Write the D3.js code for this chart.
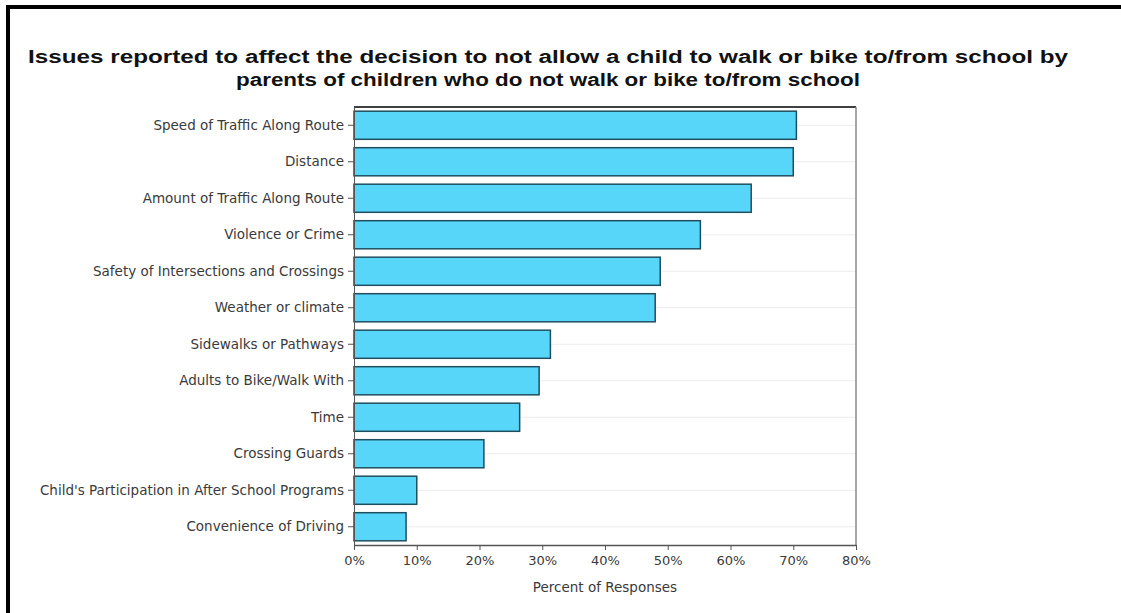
<!DOCTYPE html>
<html>
<head>
<meta charset="utf-8">
<script src="https://cdn.jsdelivr.net/npm/d3@7"></script>
<style>
  body { margin: 0; background: #fff; }
  svg { display: block; }
</style>
</head>
<body>
<script>
// Categories, top to bottom
const categories = [
  "Speed of Traffic Along Route",
  "Distance",
  "Amount of Traffic Along Route",
  "Violence or Crime",
  "Safety of Intersections and Crossings",
  "Weather or climate",
  "Sidewalks or Pathways",
  "Adults to Bike/Walk With",
  "Time",
  "Crossing Guards",
  "Child's Participation in After School Programs",
  "Convenience of Driving"
];

// Percent of responses
const percents = [70.5, 70.0, 63.3, 55.2, 48.8, 48.0, 31.3, 29.5, 26.4, 20.7, 10.0, 8.3];

const xTicks = [0, 10, 20, 30, 40, 50, 60, 70, 80];

const titleLines = [
  "Issues reported to affect the decision to not allow a child to walk or bike to/from school by",
  "parents of children who do not walk or bike to/from school"
];

const width = 1121, height = 613;
const margin = { top: 107, right: 265, bottom: 68, left: 354 };
const labelFont = "DejaVu Sans, Verdana, sans-serif";

const svg = d3.select("body").append("svg")
  .attr("width", width)
  .attr("height", height);

// outer frame (left and top edges only, as in the scan)
svg.append("rect").attr("x", 6).attr("y", 5).attr("width", 4).attr("height", height - 5).attr("fill", "#000");
svg.append("rect").attr("x", 6).attr("y", 5).attr("width", width - 6).attr("height", 4).attr("fill", "#000");

// title
svg.append("g")
  .selectAll("text")
  .data(titleLines)
  .join("text")
  .attr("x", 548)
  .attr("y", (d, i) => 63 + i * 23)
  .attr("text-anchor", "middle")
  .attr("font-family", "Liberation Sans, Arial, sans-serif")
  .attr("font-weight", "bold")
  .attr("font-size", 18)
  .attr("fill", "#111")
  .attr("textLength", (d, i) => i === 0 ? 1040 : 624)
  .attr("lengthAdjust", "spacingAndGlyphs")
  .text(d => d);

const data = categories.map((c, i) => ({ name: c, value: percents[i] }));

const x = d3.scaleLinear()
  .domain([0, 80])
  .range([margin.left, width - margin.right]);

const y = d3.scaleBand()
  .domain(categories)
  .range([margin.top, height - margin.bottom])
  .paddingInner(0.23)
  .paddingOuter(0.115);

// faint horizontal gridlines at category centers
svg.append("g")
  .selectAll("line")
  .data(categories)
  .join("line")
  .attr("x1", x(0))
  .attr("x2", x(80))
  .attr("y1", d => y(d) + y.bandwidth() / 2)
  .attr("y2", d => y(d) + y.bandwidth() / 2)
  .attr("stroke", "#ececec")
  .attr("stroke-width", 1);

// plot frame: top black, right gray
svg.append("line")
  .attr("x1", x(0)).attr("x2", x(80))
  .attr("y1", margin.top).attr("y2", margin.top)
  .attr("stroke", "#000").attr("stroke-width", 1.5);
svg.append("line")
  .attr("x1", x(80)).attr("x2", x(80))
  .attr("y1", margin.top).attr("y2", height - margin.bottom)
  .attr("stroke", "#888").attr("stroke-width", 1.5);

// bars
svg.append("g")
  .selectAll("rect")
  .data(data)
  .join("rect")
  .attr("x", x(0))
  .attr("y", d => y(d.name))
  .attr("width", d => x(d.value) - x(0))
  .attr("height", y.bandwidth())
  .attr("fill", "#58d6fa")
  .attr("stroke", "#1f4e5e")
  .attr("stroke-width", 1.5);

// y axis
const yAxis = svg.append("g")
  .attr("transform", `translate(${margin.left},0)`)
  .call(d3.axisLeft(y).tickSize(6).tickSizeOuter(0).tickPadding(4));
yAxis.select(".domain").attr("stroke", "#555");
yAxis.selectAll(".tick line").attr("stroke", "#555");
yAxis.selectAll("text")
  .attr("font-family", labelFont)
  .attr("font-size", 13.5)
  .attr("fill", "#3a3a3a");

// x axis
const xAxis = svg.append("g")
  .attr("transform", `translate(0,${height - margin.bottom})`)
  .call(d3.axisBottom(x).tickValues(xTicks).tickFormat(d => d + "%").tickSize(5).tickPadding(6).tickSizeOuter(0));
xAxis.select(".domain").attr("stroke", "#555").attr("stroke-width", 1.5);
xAxis.selectAll(".tick line").attr("stroke", "#555");
xAxis.selectAll("text")
  .attr("font-family", labelFont)
  .attr("font-size", 13)
  .attr("fill", "#3a3a3a");

// x axis title
svg.append("text")
  .attr("x", x(40))
  .attr("y", 592)
  .attr("text-anchor", "middle")
  .attr("font-family", labelFont)
  .attr("font-size", 13.5)
  .attr("fill", "#3a3a3a")
  .text("Percent of Responses");
</script>
</body>
</html>
